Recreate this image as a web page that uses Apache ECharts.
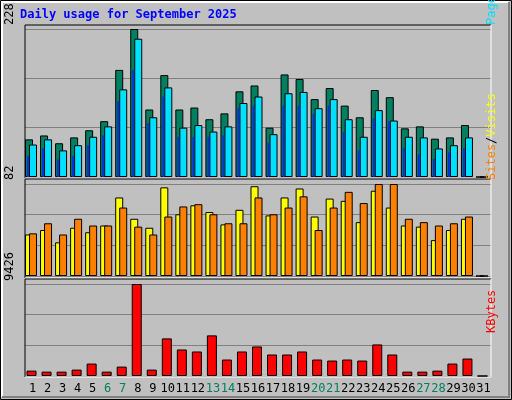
<!DOCTYPE html>
<html>
<head>
<meta charset="utf-8">
<script src="https://cdn.jsdelivr.net/npm/echarts@6/dist/echarts.min.js"></script>
<style>
html, body { margin: 0; padding: 0; background: #C0C0C0; }
#chart { width: 512px; height: 400px; }
</style>
</head>
<body>
<div id="chart"></div>
<script>
// 日期
var days = [];
for (var i = 1; i <= 31; i++) days.push(String(i));
var weekends = ['6', '7', '13', '14', '20', '21', '27', '28'];

// 上图：Hits / Files / Pages
var hits  = [58, 64, 52, 61, 72, 86, 165, 228, 104, 157, 104, 107, 89, 98, 132, 141, 76, 158, 151, 120, 137, 110, 92, 134, 123, 75, 78, 59, 61, 80, 0];
var files = [50, 58, 41, 49, 62, 78, 135, 213, 92, 138, 76, 80, 70, 78, 114, 124, 66, 129, 131, 106, 120, 89, 62, 103, 87, 62, 61, 44, 49, 61, 0];
var pages = [32, 44, 27, 32, 49, 64, 117, 165, 83, 124, 62, 62, 62, 64, 106, 109, 53, 110, 109, 97, 110, 69, 41, 90, 86, 45, 35, 28, 38, 44, 0];
// 中图：Visits / Sites
var visits = [37, 41, 30, 43, 39, 45, 70, 51, 43, 79, 55, 63, 57, 46, 59, 80, 54, 70, 78, 53, 69, 67, 48, 76, 61, 45, 44, 32, 41, 51, 0];
var sites  = [38, 47, 37, 51, 45, 45, 61, 44, 37, 53, 62, 64, 55, 47, 47, 70, 55, 61, 71, 41, 61, 75, 65, 82, 82, 51, 48, 45, 47, 53, 0];
// 下图：KBytes
var kbytes = [550, 447, 447, 654, 1273, 447, 963, 9426, 654, 3853, 2718, 2511, 4162, 1686, 2511, 3027, 2202, 2202, 2511, 1686, 1582, 1686, 1582, 3234, 2202, 447, 447, 550, 1273, 1789, 0];
var maxTop = 228, maxMid = 82, maxBot = 9426;

var font = 'DejaVu Sans Mono';
var panels = [ { top: 29, height: 148, max: maxTop }, { top: 184, height: 92, max: maxMid }, { top: 284, height: 92, max: maxBot } ];

var grids = [], xAxes = [], yAxes = [], series = [];

function addGrid(left, panel, showSplit, showLabels) {
	var idx = grids.length;
	grids.push({ left: left, top: panel.top, width: 466, height: panel.height });
	xAxes.push({
		gridIndex: idx, type: 'category', data: days,
		axisLine: { show: false }, axisTick: { show: false },
		axisLabel: {
			show: !!showLabels, margin: 7, fontFamily: font, fontSize: 12,
			interval: 0,
			color: function(v) { return weekends.indexOf(v) >= 0 ? '#008060' : '#000000'; }
		}
	});
	yAxes.push({
		gridIndex: idx, type: 'value', min: 0, max: panel.max, interval: panel.max / 3,
		axisLine: { show: false }, axisTick: { show: false }, axisLabel: { show: false },
		splitLine: { show: !!showSplit, lineStyle: { color: '#808080', width: 1 } }
	});
	return idx;
}

function addBar(gi, data, color, width, z, border) {
	series.push({
		type: 'bar', xAxisIndex: gi, yAxisIndex: gi, data: data, barWidth: width,
		z: z, silent: true,
		itemStyle: { color: color, borderColor: '#000000', borderWidth: border }
	});
}

// 背景网格线
addGrid(25, panels[0], true);
addGrid(25, panels[1], true);
addGrid(25, panels[2], true, true);

addBar(addGrid(21.5, panels[0]), hits, '#008060', 8, 2, 1);
addBar(addGrid(25.5, panels[0]), files, '#00E0FF', 8, 3, 1);
addBar(addGrid(20.5, panels[0]), pages, '#0030E0', 2, 4, 0);
addBar(addGrid(21.5, panels[1]), visits, '#FFFF00', 8, 2, 1);
addBar(addGrid(25.5, panels[1]), sites, '#FF8000', 8, 3, 1);
addBar(addGrid(24, panels[2]), kbytes, '#FF0000', 10, 2, 1);

function frame(y1, y2) {
	return [
		{ type: 'line', shape: { x1: 25, y1: y1, x2: 491, y2: y1 }, style: { stroke: '#000', lineWidth: 1 }, z: 1 },
		{ type: 'line', shape: { x1: 25, y1: y1, x2: 25, y2: y2 }, style: { stroke: '#000', lineWidth: 1 }, z: 1 },
		{ type: 'line', shape: { x1: 491, y1: y1, x2: 491, y2: y2 }, style: { stroke: '#fff', lineWidth: 1 }, z: 1 },
		{ type: 'line', shape: { x1: 25, y1: y2, x2: 491, y2: y2 }, style: { stroke: '#fff', lineWidth: 1 }, z: 1 }
	];
}

function vtext(x, y, rich, text) {
	return { type: 'text', x: x, y: y, rotation: Math.PI / 2, z: 5,
		style: { text: text, rich: rich, font: '12px ' + font, align: 'right', verticalAlign: 'middle' } };
}

var rs = {
	p: { fill: '#00E0FF', font: '12px ' + font }, f: { fill: '#0030E0', font: '12px ' + font },
	h: { fill: '#008060', font: '12px ' + font }, s: { fill: '#000', font: '12px ' + font },
	y: { fill: '#FFFF00', font: '12px ' + font }, o: { fill: '#FF8000', font: '12px ' + font },
	r: { fill: '#FF0000', font: '12px ' + font }, k: { fill: '#000', font: '12px ' + font }
};

var graphic = [
	{ type: 'rect', shape: { x: 0.5, y: 0.5, width: 511, height: 399 }, style: { fill: '#C0C0C0', stroke: '#000' }, z: -10 },
	{ type: 'polyline', shape: { points: [[2, 397], [2, 2], [509, 2]] }, style: { stroke: '#fff', fill: null, lineWidth: 2 }, z: -9 },
	{ type: 'polyline', shape: { points: [[2, 397], [509, 397], [509, 2]] }, style: { stroke: '#808080', fill: null, lineWidth: 2 }, z: -9 },
	{ type: 'text', x: 20, y: 9, style: { text: 'Daily usage for September 2025', fill: '#0000FF', font: 'bold 12px ' + font } },
	vtext(10, 25, null, '228'),
	vtext(10, 180, null, '82'),
	vtext(10, 281, null, '9426'),
	vtext(492, 25, rs, '{p|Pages}{s|/}{f|Files}{s|/}{h|Hits}'),
	vtext(492, 180, rs, '{o|Sites}{s|/}{y|Visits}'),
	vtext(492, 333, rs, '{r|KBytes}')
].concat(frame(25, 178), frame(179, 278), frame(279, 377));

// 修正竖排文字：从下往上读
graphic.forEach(function(g) {
	if (g.rotation) { g.style.align = 'left'; }
});

var chart = echarts.init(document.getElementById('chart'));
chart.setOption({
	animation: false,
	grid: grids, xAxis: xAxes, yAxis: yAxes, series: series, graphic: graphic
});
</script>
</body>
</html>
